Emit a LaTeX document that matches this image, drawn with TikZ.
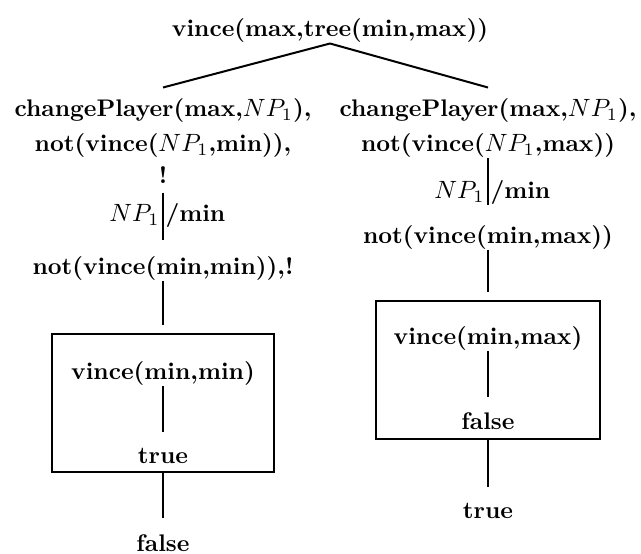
\documentclass[tikz,border=0pt]{standalone}
\begin{document}
\begin{tikzpicture}[x=0.4pt,y=-0.4pt,
  lbl/.style={inner sep=0pt,text height=7.5pt,text depth=2.5pt,font=\fontsize{9.6}{11.5}\selectfont\bfseries},
  conn/.style={line width=0.8pt},
  boxed/.style={draw,line width=0.8pt,inner sep=0pt}]
\useasboundingbox (0,0) rectangle (641,554);
% top
\node[lbl] (top) at (330,30) {vince(max,tree(min,max))};
% left column
\node[lbl] (L1) at (163,110) {changePlayer(max,$NP_1$),};
\node[lbl] (L2) at (163,145) {not(vince($NP_1$,min)),};
\node[lbl] (bang) at (163,177) {!};
\node[lbl,anchor=east] (Lnp) at (160,215) {$NP_1$};
\node[lbl,anchor=west] (Lmin) at (165,215) {/min};
\node[lbl] (L3) at (163,268) {not(vince(min,min)),!};
\node[boxed,minimum width=88.8pt,minimum height=55.2pt] (boxL) at (163,403) {};
\node[lbl] (vL) at (163,373) {vince(min,min)};
\node[lbl] (tL) at (163,457) {true};
\node[lbl] (fL) at (163,545) {false};
% right column
\node[lbl] (R1) at (488,110) {changePlayer(max,$NP_1$),};
\node[lbl] (R2) at (488,145) {not(vince($NP_1$,max))};
\node[lbl,anchor=east] (Rnp) at (485,192) {$NP_1$};
\node[lbl,anchor=west] (Rmin) at (490,192) {/min};
\node[lbl] (R3) at (488,237) {not(vince(min,max))};
\node[boxed,minimum width=89.6pt,minimum height=55.2pt] (boxR) at (488,370) {};
\node[lbl] (vR) at (488,338) {vince(min,max)};
\node[lbl] (fR) at (488,423) {false};
\node[lbl] (tR) at (488,512) {true};
% connectors
\draw[conn] ([yshift=-0.2pt]top.south) -- ([yshift=3.8pt]L1.north);
\draw[conn] ([yshift=-0.2pt]top.south) -- ([yshift=3.8pt]R1.north);
\draw[conn] ([yshift=-1pt]bang.south) -- ([yshift=6.2pt]L3.north);
\draw[conn] (L3.south) -- ([yshift=3.2pt]boxL.north);
\draw[conn] (vL.south) -- ([yshift=5pt]tL.north);
\draw[conn] (boxL.south) -- ([yshift=5.8pt]fL.north);
\draw[conn] (R2.south) -- ([yshift=7.8pt]R3.north);
\draw[conn] (R3.south) -- ([yshift=3.2pt]boxR.north);
\draw[conn] (vR.south) -- ([yshift=5.4pt]fR.north);
\draw[conn] (boxR.south) -- ([yshift=5pt]tR.north);
\end{tikzpicture}
\end{document}
